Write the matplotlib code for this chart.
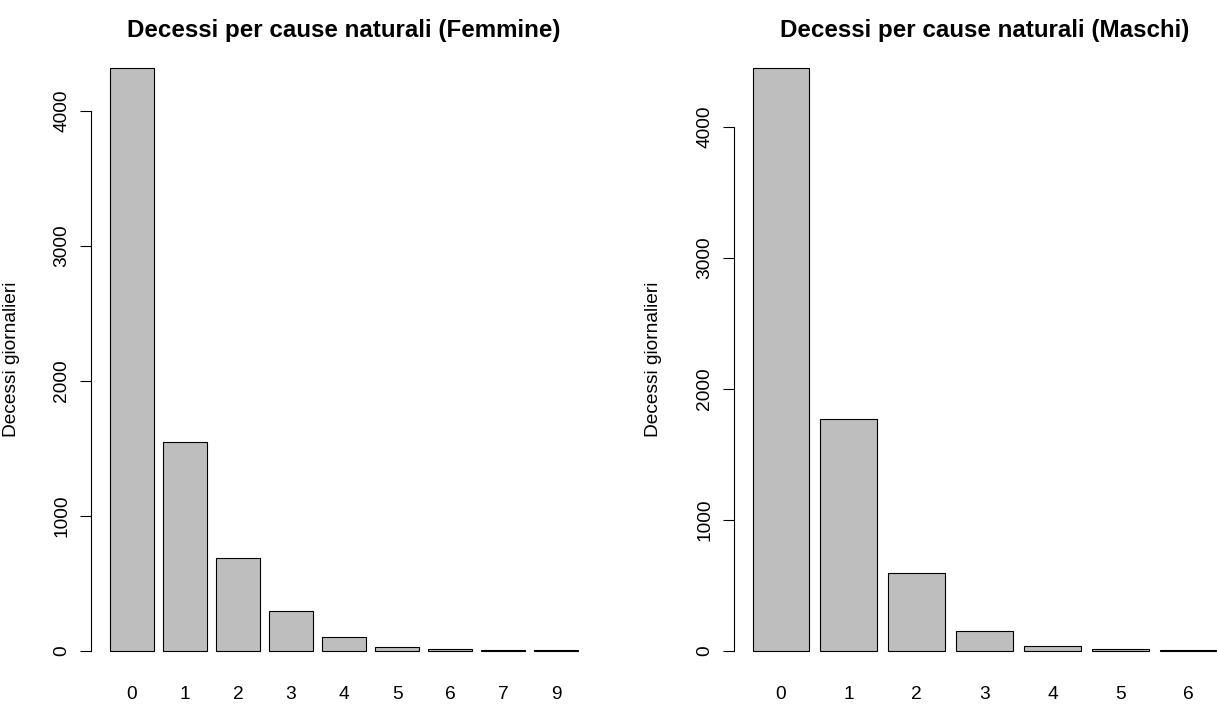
import matplotlib
matplotlib.use("Agg")
import matplotlib.pyplot as plt

plt.rcParams['font.family'] = ['Liberation Sans', 'DejaVu Sans']

# Daily counts of deaths from natural causes: frequency of days by number of deaths
f_categories = ["0", "1", "2", "3", "4", "5", "6", "7", "9"]
f_counts = [4318, 1548, 687, 294, 104, 25, 12, 5, 2]

m_categories = ["0", "1", "2", "3", "4", "5", "6"]
m_counts = [4450, 1768, 593, 152, 36, 10, 3]

y_ticks = [0, 1000, 2000, 3000, 4000]

W, H = 1219, 704
fig = plt.figure(figsize=(W / 100, H / 100), dpi=100)

BAR_FILL = "#bebebe"
TICK_FS = 13.8
TITLE_FS = 17.4


def barplot(rect, cats, vals, title, label_x_px):
    ax = fig.add_axes(rect)
    n = len(vals)
    width, space = 1.0, 0.2
    lefts = [space + i * (width + space) for i in range(n)]
    centers = [l + width / 2 for l in lefts]
    ax.bar(centers, vals, width=width, color=BAR_FILL, edgecolor="black",
           linewidth=0.8)
    lo, hi = lefts[0], lefts[-1] + width
    pad = 0.04 * (hi - lo)
    ax.set_xlim(lo - pad, hi + pad)
    top = max(vals)
    ax.set_ylim(-0.04 * top, 1.04 * top)

    for s in ("top", "right", "bottom"):
        ax.spines[s].set_visible(False)
    ax.spines["left"].set_bounds(y_ticks[0], y_ticks[-1])
    ax.spines["left"].set_linewidth(0.8)

    ax.set_yticks(y_ticks)
    ax.set_yticklabels([str(t) for t in y_ticks], rotation=90, va="center",
                       fontsize=TICK_FS)
    ax.tick_params(axis="y", length=8, width=0.8, pad=7)

    ax.set_xticks(centers)
    ax.set_xticklabels(cats, fontsize=TICK_FS)
    ax.tick_params(axis="x", length=0, pad=8.5)

    ax.set_title(title, fontsize=TITLE_FS, fontweight="bold", pad=5)
    ax.set_ylabel("Decessi giornalieri", fontsize=TICK_FS)
    bbox_w = rect[2] * W
    ax.yaxis.set_label_coords(-(rect[0] * W - label_x_px) / bbox_w, 0.5)
    return ax


bottom = (H - 674) / H
height = (674 - 44.4) / H

barplot([91.2 / W, bottom, (597 - 91.2) / W, height],
        f_categories, f_counts,
        "Decessi per cause naturali (Femmine)", 20)
barplot([734 / W, bottom, (1235 - 734) / W, height],
        m_categories, m_counts,
        "Decessi per cause naturali (Maschi)", 662)

fig.savefig("out.png", dpi=100)
